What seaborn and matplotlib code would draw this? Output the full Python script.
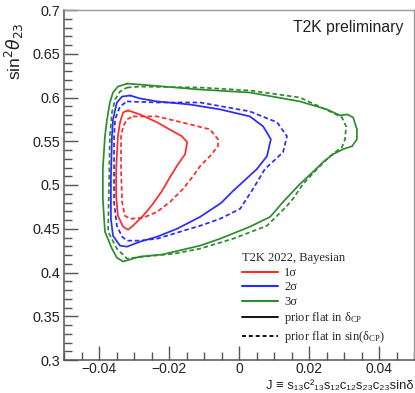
import numpy as np
import pandas as pd
import matplotlib
matplotlib.use("Agg")
import matplotlib.pyplot as plt
from matplotlib.lines import Line2D
from matplotlib.font_manager import FontProperties
from matplotlib.ticker import MultipleLocator
import seaborn as sns

# Credible-region contours in the (J, sin^2 theta23) plane, T2K 2022 Bayesian fit
red_solid_j = [-0.0317, -0.0283, -0.0234, -0.0189, -0.0163, -0.0148, -0.0154, -0.0174, -0.0197,
               -0.0220, -0.0246, -0.0274, -0.0303, -0.0317, -0.0331, -0.0346, -0.0351, -0.0351,
               -0.0346, -0.0340, -0.0331]
red_solid_s = [0.5852, 0.5807, 0.5716, 0.5614, 0.5557, 0.5489, 0.5352, 0.5239, 0.5091,
               0.4932, 0.4784, 0.4648, 0.4534, 0.4489, 0.4523, 0.4648, 0.4875, 0.5182,
               0.5557, 0.5716, 0.5830]

red_dash_j = [-0.0303, -0.0283, -0.0234, -0.0140, -0.0083, -0.0060, -0.0060, -0.0083, -0.0111,
              -0.0131, -0.0160, -0.0197, -0.0234, -0.0274, -0.0311, -0.0326, -0.0334, -0.0337,
              -0.0337, -0.0331, -0.0320]
red_dash_s = [0.5784, 0.5784, 0.5784, 0.5693, 0.5636, 0.5523, 0.5443, 0.5330, 0.5216,
              0.5102, 0.4955, 0.4807, 0.4693, 0.4625, 0.4614, 0.4648, 0.4807, 0.5182,
              0.5557, 0.5670, 0.5750]

blue_solid_j = [-0.0311, -0.0283, -0.0234, -0.0140, -0.0054, 0.0031, 0.0069, 0.0091, 0.0080,
                0.0051, 0.0011, -0.0017, -0.0051, -0.0111, -0.0177, -0.0234, -0.0283, -0.0320,
                -0.0340, -0.0360, -0.0366, -0.0366, -0.0363, -0.0360, -0.0349, -0.0334]
blue_solid_s = [0.6023, 0.5989, 0.5955, 0.5920, 0.5864, 0.5784, 0.5670, 0.5523, 0.5330,
                0.5182, 0.5034, 0.4932, 0.4795, 0.4636, 0.4500, 0.4409, 0.4352, 0.4295,
                0.4307, 0.4420, 0.4614, 0.5068, 0.5557, 0.5750, 0.5943, 0.6011]

blue_dash_j = [-0.0320, -0.0234, -0.0111, 0.0031, 0.0109, 0.0137, 0.0126, 0.0074, 0.0040,
               0.0003, -0.0054, -0.0111, -0.0140, -0.0234, -0.0283, -0.0320, -0.0334, -0.0349,
               -0.0357, -0.0357, -0.0354, -0.0340]
blue_dash_s = [0.5955, 0.5943, 0.5943, 0.5841, 0.5716, 0.5557, 0.5375, 0.5182, 0.4955,
               0.4727, 0.4614, 0.4534, 0.4500, 0.4386, 0.4364, 0.4364, 0.4409, 0.4534,
               0.4807, 0.5557, 0.5750, 0.5898]

green_solid_j = [-0.0320, -0.0283, -0.0111, 0.0031, 0.0174, 0.0251, 0.0289, 0.0309, 0.0326,
                 0.0337, 0.0337, 0.0323, 0.0297, 0.0269, 0.0240, 0.0211, 0.0174, 0.0126,
                 0.0089, 0.0031, -0.0054, -0.0111, -0.0220, -0.0283, -0.0331, -0.0349,
                 -0.0363, -0.0383, -0.0389, -0.0389, -0.0386, -0.0383, -0.0377, -0.0369,
                 -0.0360, -0.0346]
green_solid_s = [0.6159, 0.6148, 0.6091, 0.6057, 0.5955, 0.5864, 0.5795, 0.5807, 0.5773,
                 0.5636, 0.5523, 0.5443, 0.5409, 0.5352, 0.5261, 0.5148, 0.5011, 0.4807,
                 0.4636, 0.4523, 0.4386, 0.4307, 0.4205, 0.4182, 0.4125, 0.4170,
                 0.4273, 0.4466, 0.4841, 0.5182, 0.5375, 0.5557, 0.5750, 0.5943,
                 0.6057, 0.6125]

green_dash_j = [-0.0320, -0.0283, -0.0111, 0.0031, 0.0174, 0.0260, 0.0294, 0.0306, 0.0303,
                0.0294, 0.0260, 0.0223, 0.0183, 0.0154, 0.0137, 0.0080, -0.0017, -0.0111,
                -0.0183, -0.0269, -0.0320, -0.0349, -0.0374, -0.0371, -0.0369, -0.0363,
                -0.0354, -0.0340]
green_dash_s = [0.6114, 0.6125, 0.6114, 0.6080, 0.6000, 0.5841, 0.5773, 0.5670, 0.5523,
                0.5432, 0.5330, 0.5182, 0.5011, 0.4841, 0.4761, 0.4534, 0.4386, 0.4273,
                0.4216, 0.4182, 0.4159, 0.4273, 0.4466, 0.5068, 0.5557, 0.5830,
                0.5977, 0.6068]

levels = ["1σ", "2σ", "3σ"]
level_colors = ["#ff2a2a", "#2a2aff", "#2e8b2e"]
prior_labels = [r"prior flat in $\mathregular{\delta_{CP}}$",
                r"prior flat in sin($\mathregular{\delta_{CP}}$)"]
legend_title = "T2K 2022, Bayesian"
x_ticks = [-0.04, -0.02, 0.0, 0.02, 0.04]
y_ticks = [0.3, 0.35, 0.4, 0.45, 0.5, 0.55, 0.6, 0.65, 0.7]

contours = [
    (red_solid_j, red_solid_s, 0, "-"),
    (red_dash_j, red_dash_s, 0, "--"),
    (blue_solid_j, blue_solid_s, 1, "-"),
    (blue_dash_j, blue_dash_s, 1, "--"),
    (green_solid_j, green_solid_s, 2, "-"),
    (green_dash_j, green_dash_s, 2, "--"),
]

sns.set_theme(style="white")
plt.rcParams["font.family"] = ["Liberation Sans", "DejaVu Sans"]

fig = plt.figure(figsize=(4.15, 3.93), dpi=100)
ax = fig.add_axes([64 / 415, 33 / 393, 350 / 415, 350 / 393])

dash_style = (0, (2.6, 1.6))
for js, ss, lev, ls in contours:
    # close each contour loop
    df = pd.DataFrame({"J": list(js) + [js[0]], "s23": list(ss) + [ss[0]]})
    sns.lineplot(data=df, x="J", y="s23", sort=False, estimator=None, ax=ax,
                 color=level_colors[lev], lw=1.25,
                 linestyle="-" if ls == "-" else dash_style,
                 solid_joinstyle="round", dash_joinstyle="round")

ax.set_xlim(-0.05, 0.05)
ax.set_ylim(0.3, 0.7)
ax.set_xticks(x_ticks)
ax.set_yticks(y_ticks)
ax.set_xticklabels(["−0.04", "−0.02", "0", "0.02", "0.04"])
ax.set_yticklabels(["0.3", "0.35", "0.4", "0.45", "0.5", "0.55", "0.6", "0.65", "0.7"])
ax.xaxis.set_minor_locator(MultipleLocator(0.005))
ax.yaxis.set_minor_locator(MultipleLocator(0.01))
ax.tick_params(axis="both", which="both", direction="in", colors="#555555",
               labelcolor="#222222", labelsize=10.4, top=False, right=False,
               bottom=True, left=True)
ax.tick_params(axis="both", which="major", length=10, width=1)
ax.tick_params(axis="both", which="minor", length=5.5, width=1)
ax.tick_params(axis="x", which="major", pad=1.2, labelsize=10)
ax.tick_params(axis="y", which="major", pad=3)

for side in ["left", "bottom"]:
    ax.spines[side].set_color("#555555")
    ax.spines[side].set_linewidth(1.1)
for side in ["top", "right"]:
    ax.spines[side].set_color("#9a9a9a")
    ax.spines[side].set_linewidth(1.0)

ax.set_xlabel("J ≡ s₁₃c²₁₃s₁₂c₁₂s₂₃c₂₃sinδ", fontsize=9.4, color="#222222", loc="right")
ax.xaxis.label.set_va("bottom")
ax.xaxis.set_label_coords(413 / 415, 0.6 / 393, transform=fig.transFigure)
ax.set_ylabel(r"sin$^{2}\theta_{23}$", fontsize=12.5, color="#222222", loc="top")
ax.yaxis.set_label_coords(-0.11, 0.965)

ax.text(0.969, 0.949, "T2K preliminary", transform=ax.transAxes, ha="right",
        va="center", fontsize=11.3, color="#222222")

handles = [Line2D([], [], color=c, lw=1.5) for c in level_colors]
handles += [Line2D([], [], color="black", lw=1.3),
            Line2D([], [], color="black", lw=1.3, linestyle=(0, (2.2, 1.6)))]
legend_font = FontProperties(family="Liberation Serif", size=9, math_fontfamily="stix")
leg = ax.legend(handles, levels + prior_labels, title=legend_title, prop=legend_font,
                title_fontproperties=legend_font, frameon=False, loc="upper left",
                bbox_to_anchor=(0.49, 0.325), handlelength=2.9, handletextpad=0.5,
                labelspacing=0.2, borderpad=0.0, alignment="left")

sns.despine(ax=ax, top=False, right=False)
fig.savefig("out.png", dpi=100)
